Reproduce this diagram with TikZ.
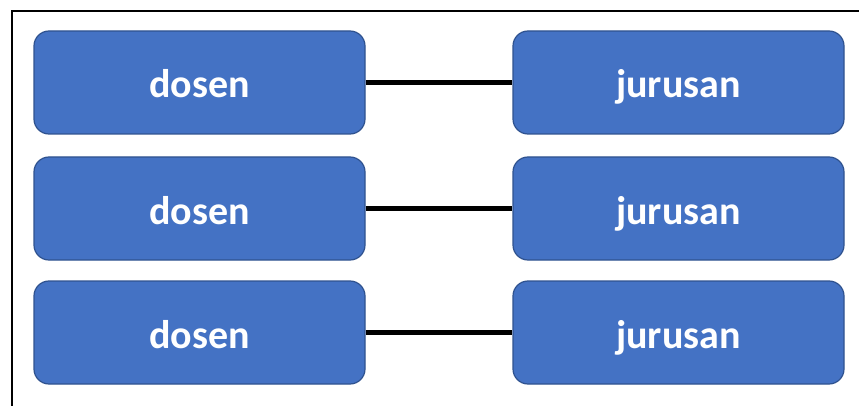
\documentclass[tikz,border=0pt]{standalone}
\usepackage{fontspec}
\setmainfont{Carlito}
\definecolor{boxfill}{HTML}{4472C4}
\definecolor{boxline}{HTML}{2F528F}
\tikzset{
  entity/.style={rectangle, rounded corners=15pt, fill=boxfill, draw=boxline,
    line width=1.2pt, minimum width=331pt, minimum height=103pt,
    text=white, font=\fontsize{40}{42}\selectfont\bfseries, inner sep=0pt,
    text height=31pt, text depth=0pt},
  link/.style={line width=4.5pt, black}
}
\begin{document}
\begin{tikzpicture}[x=1pt,y=-1pt]
  \useasboundingbox (0,0) rectangle (859,406);
  % open frame along the left and top
  \draw[line width=2.5pt] (12,410) -- (12,11) -- (863,11);
  % left column
  \node[entity] (d1) at (199.5,82.5) {dosen};
  \node[entity] (d2) at (199.5,208.5) {dosen};
  \node[entity] (d3) at (199.5,332.5) {dosen};
  % right column
  \node[entity] (j1) at (678.5,82.5) {jurusan};
  \node[entity] (j2) at (678.5,208.5) {jurusan};
  \node[entity] (j3) at (678.5,332.5) {jurusan};
  % connectors
  \draw[link] (d1.east) -- (j1.west);
  \draw[link] (d2.east) -- (j2.west);
  \draw[link] (d3.east) -- (j3.west);
\end{tikzpicture}
\end{document}
